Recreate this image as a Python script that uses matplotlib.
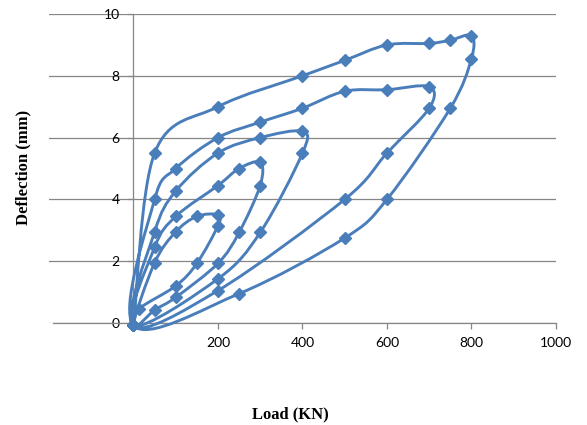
import numpy as np
import matplotlib
matplotlib.use("Agg")
import matplotlib.pyplot as plt
from matplotlib.path import Path
from matplotlib.patches import PathPatch

# load / deflection readings, one loading cycle each
cyc1_load = [0, 12.5, 100, 150, 200, 200, 150, 100, 50]
cyc1_defl = [-0.08, 0.45, 1.2, 1.93, 3.15, 3.5, 3.45, 2.95, 1.95]

cyc2_load = [0, 50, 100, 200, 250, 300, 300, 250, 200, 100, 50]
cyc2_defl = [-0.08, 0.42, 0.83, 1.93, 2.93, 4.45, 5.2, 5.0, 4.45, 3.45, 2.45]

cyc3_load = [0, 200, 300, 400, 400, 300, 200, 100, 50]
cyc3_defl = [-0.08, 1.43, 2.93, 5.5, 6.2, 6.0, 5.5, 4.27, 2.95]

cyc4_load = [0, 200, 500, 600, 700, 700, 600, 500, 400, 300, 200, 100, 50]
cyc4_defl = [-0.08, 1.05, 4.0, 5.5, 6.95, 7.65, 7.55, 7.5, 6.95, 6.5, 6.0, 5.0, 4.0]

cyc5_load = [0, 250, 500, 600, 750, 800, 800, 750, 700, 600, 500, 400, 200, 50, 0]
cyc5_defl = [-0.08, 0.95, 2.75, 4.0, 6.95, 8.55, 9.3, 9.15, 9.05, 9.0, 8.5, 8.0, 7.0, 5.5, -0.08]

xticks = [200, 400, 600, 800, 1000]
yticks = [0, 2, 4, 6, 8, 10]

load = np.array(cyc1_load + cyc2_load + cyc3_load + cyc4_load + cyc5_load, dtype=float)
defl = np.array(cyc1_defl + cyc2_defl + cyc3_defl + cyc4_defl + cyc5_defl, dtype=float)

blue = "#4A7EBB"
grey = "#868686"


def smooth_path(x, y, t=1 / 6):
    # excel-like smoothed line: cubic bezier through every point
    pts = np.column_stack([x, y])
    n = len(pts)
    verts = [pts[0]]
    codes = [Path.MOVETO]
    for i in range(n - 1):
        p_prev = pts[i - 1] if i > 0 else pts[i]
        p_next2 = pts[i + 2] if i + 2 < n else pts[i + 1]
        c1 = pts[i] + (pts[i + 1] - p_prev) * t
        c2 = pts[i + 1] - (p_next2 - pts[i]) * t
        verts += [c1, c2, pts[i + 1]]
        codes += [Path.CURVE4] * 3
    return Path(verts, codes)


fig = plt.figure(figsize=(5.87, 4.25), dpi=100)
ax = fig.add_axes([0.0835, 0.24, 0.8635, 0.727])

ax.add_patch(PathPatch(smooth_path(load, defl), fill=False, edgecolor=blue,
                       lw=2.1, zorder=3, capstyle="round", joinstyle="round",
                       clip_on=False))
ax.plot(load, defl, ls="none", marker="D", ms=6, color=blue, zorder=4,
        clip_on=False)

ax.set_xlim(-200, 1000)
ax.set_ylim(0, 10)
ax.set_xticks([0] + xticks)
ax.set_xticklabels([""] + [str(v) for v in xticks])
ax.set_yticks(yticks)
ax.set_yticklabels([str(v) for v in yticks])

ax.spines["top"].set_visible(False)
ax.spines["right"].set_visible(False)
ax.spines["left"].set_position(("data", 0))
for s in ["left", "bottom"]:
    ax.spines[s].set_color(grey)
    ax.spines[s].set_linewidth(0.9)
ax.spines["bottom"].set_bounds(-190, 1000)

ax.yaxis.grid(True, color=grey, lw=0.9)
ax.set_axisbelow(True)
ax.tick_params(axis="both", colors=grey, length=4, width=0.9, labelcolor="black",
               labelsize=10)
ax.tick_params(axis="x", pad=6)
ax.tick_params(axis="y", pad=6)
for lab in ax.get_xticklabels() + ax.get_yticklabels():
    lab.set_fontfamily("Lato")

fig.text(0.494, 0.024, "Load (KN)", ha="center", va="center",
         fontsize=12, fontweight="bold", family="Liberation Serif")
fig.text(0.04, 0.605, "Deflection (mm)", ha="center", va="center", rotation=90,
         fontsize=12, fontweight="bold", family="Liberation Serif")

fig.savefig("out.png", dpi=100)
